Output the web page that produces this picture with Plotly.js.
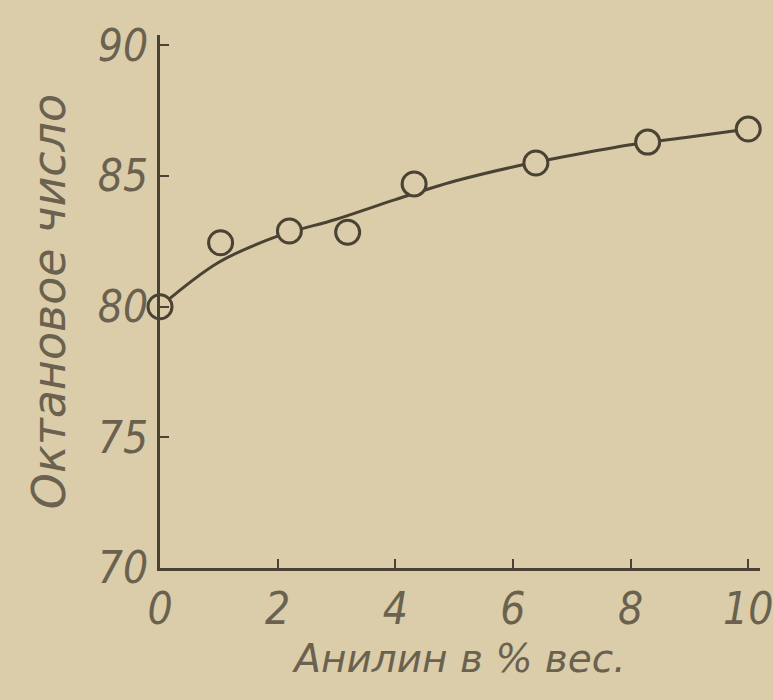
<!DOCTYPE html>
<html>
<head>
<meta charset="utf-8">
<script src="https://cdn.plot.ly/plotly-3.0.1.min.js"></script>
<style>
html,body{margin:0;padding:0;background:#dbcdaa;}
#chart{width:773px;height:700px;}
</style>
</head>
<body>
<div id="chart"></div>
<script>
// Measured points (aniline, % by weight -> octane number)
var anilinePct = [0, 1.03, 2.2, 3.19, 4.32, 6.39, 8.29, 10.0];
var octaneNumber = [80.0, 82.45, 82.9, 82.85, 84.7, 85.5, 86.3, 86.8];
// Smoothed curve drawn through the points
var curveX = [0, 1, 2, 3, 4, 5, 6, 7, 8, 9, 10];
var curveY = [80.0, 81.7, 82.7, 83.35, 84.1, 84.8, 85.35, 85.8, 86.2, 86.5, 86.8];
// Tick labels
var xTickVals = [0, 2, 4, 6, 8, 10];
var xTickText = ['0', '2', '4', '6', '8', '10'];
var yTickVals = [70, 75, 80, 85, 90];
var yTickText = ['70', '75', '80', '85', '90'];

var paper = '#dbcdaa';
var ink = '#4a4334';
var textInk = '#6a624e';
var tickFont = {family: 'Liberation Sans Narrow, DejaVu Sans Condensed, sans-serif', size: 44, color: textInk, style: 'italic'};

var traces = [
  {x: curveX, y: curveY, type: 'scatter', mode: 'lines',
   line: {color: ink, width: 3, shape: 'spline', smoothing: 1}, hoverinfo: 'skip', showlegend: false},
  {x: anilinePct, y: octaneNumber, type: 'scatter', mode: 'markers', cliponaxis: false,
   marker: {symbol: 'circle', size: 24, color: paper, line: {color: ink, width: 3}}, showlegend: false}
];

var layout = {
  width: 773, height: 700,
  paper_bgcolor: paper, plot_bgcolor: paper,
  margin: {l: 160, r: 13, t: 35, b: 132},
  showlegend: false,
  xaxis: {
    range: [0, 10.2], tickvals: xTickVals, ticktext: xTickText,
    showgrid: false, zeroline: false, showline: true, linecolor: ink, linewidth: 3,
    ticks: 'inside', ticklen: 9, tickwidth: 2, tickcolor: ink,
    tickfont: tickFont, ticklabeloverflow: 'allow',
    title: {text: 'Анилин в % вес.', standoff: 12,
            font: {family: 'DejaVu Sans, sans-serif', size: 39, color: textInk, style: 'italic'}}
  },
  yaxis: {
    range: [70, 90.4], tickvals: yTickVals, ticktext: yTickText,
    showgrid: false, zeroline: false, showline: true, linecolor: ink, linewidth: 3,
    ticks: 'inside', ticklen: 9, tickwidth: 2, tickcolor: ink,
    tickfont: tickFont,
    title: {text: 'Октановое число', standoff: 18,
            font: {family: 'DejaVu Sans, sans-serif', size: 46, color: textInk, style: 'italic'}}
  }
};

Plotly.newPlot('chart', traces, layout, {staticPlot: true});
</script>
</body>
</html>
